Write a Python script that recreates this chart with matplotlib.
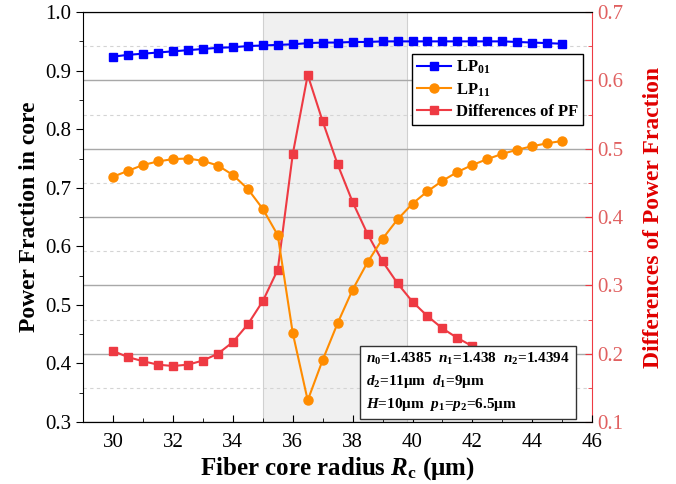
import matplotlib
matplotlib.use("Agg")
import matplotlib.pyplot as plt
from matplotlib.ticker import MultipleLocator

plt.rcParams['font.family'] = ['Liberation Serif', 'DejaVu Serif']
plt.rcParams['mathtext.fontset'] = 'custom'
plt.rcParams['mathtext.rm'] = 'Liberation Serif:bold'
plt.rcParams['mathtext.it'] = 'Liberation Serif:italic:bold'
plt.rcParams['mathtext.bf'] = 'Liberation Serif:bold'

# fiber core radius (um)
radius = [30.0, 30.5, 31.0, 31.5, 32.0, 32.5, 33.0, 33.5, 34.0, 34.5, 35.0,
          35.5, 36.0, 36.5, 37.0, 37.5, 38.0, 38.5, 39.0, 39.5, 40.0,
          40.5, 41.0, 41.5, 42.0, 42.5, 43.0, 43.5, 44.0, 44.5, 45.0]

# power fraction in core
lp01 = [0.924, 0.927, 0.929, 0.931, 0.933, 0.935, 0.937, 0.939, 0.940, 0.942, 0.943,
        0.944, 0.945, 0.947, 0.948, 0.948, 0.949, 0.949, 0.950, 0.950, 0.950,
        0.950, 0.950, 0.950, 0.950, 0.950, 0.950, 0.949, 0.948, 0.947, 0.946]
lp11 = [0.719, 0.729, 0.739, 0.745, 0.749, 0.750, 0.746, 0.738, 0.722, 0.698, 0.664,
        0.619, 0.452, 0.337, 0.406, 0.469, 0.526, 0.573, 0.613, 0.646, 0.673,
        0.694, 0.712, 0.727, 0.739, 0.749, 0.758, 0.765, 0.771, 0.776, 0.780]
# differences of power fraction (right axis)
diff_pf = [0.204, 0.195, 0.189, 0.184, 0.182, 0.184, 0.190, 0.200, 0.217, 0.243, 0.277,
           0.323, 0.492, 0.608, 0.540, 0.477, 0.422, 0.375, 0.335, 0.303, 0.276,
           0.255, 0.237, 0.223, 0.211, 0.200, 0.192, 0.185, 0.179, 0.173, 0.168]

shade_range = (35.0, 39.8)

blue = '#0000ff'
orange = '#ff8c00'
red = '#ee3a43'
red_txt = '#e06060'

fig = plt.figure(figsize=(6.76, 4.84), dpi=100)
ax1 = fig.add_axes([0.123, 0.128, 0.753, 0.847])
ax2 = ax1.twinx()

# ax1 (blue/orange) sits on top of ax2 (grid, shading, red curve)
ax1.set_zorder(ax2.get_zorder() + 1)
ax1.patch.set_visible(False)

ax2.axvspan(*shade_range, facecolor='#f0f0f0', edgecolor='#d0d0d0', linewidth=0.8, zorder=0)
ax2.plot(radius, diff_pf, '-s', color=red, markersize=5.5, linewidth=1.5,
         label='Differences of PF', zorder=3)

ax1.plot(radius, lp01, '-s', color=blue, markersize=6, linewidth=1.5, label='LP$_{01}$')
ax1.plot(radius, lp11, '-o', color=orange, markersize=6.5, linewidth=1.5, label='LP$_{11}$')

ax1.set_xlim(29, 46)
ax1.set_ylim(0.3, 1.0)
ax2.set_ylim(0.1, 0.7)

ax1.xaxis.set_major_locator(MultipleLocator(2))
ax1.xaxis.set_minor_locator(MultipleLocator(1))
ax1.yaxis.set_major_locator(MultipleLocator(0.1))
ax1.yaxis.set_minor_locator(MultipleLocator(0.05))
ax2.yaxis.set_major_locator(MultipleLocator(0.1))
ax2.yaxis.set_minor_locator(MultipleLocator(0.05))
ax1.yaxis.set_major_formatter(plt.FormatStrFormatter('%.1f'))
ax2.yaxis.set_major_formatter(plt.FormatStrFormatter('%.1f'))

# grid follows the right axis
ax2.grid(True, which='major', axis='y', color='#a8a8a8', linewidth=1.0)
ax2.grid(True, which='minor', axis='y', color='#d4d4d4', linewidth=0.8, linestyle=(0, (3, 3)))
ax2.set_axisbelow(True)

ax1.tick_params(axis='y', which='major', direction='out', length=5, labelsize=15)
ax1.tick_params(axis='y', which='minor', direction='out', length=3)
ax1.tick_params(axis='x', which='major', direction='in', length=5, labelsize=15, pad=8)
ax1.tick_params(axis='x', which='minor', direction='in', length=3)
ax2.tick_params(axis='y', which='major', direction='in', length=5, labelsize=15,
                color=red, labelcolor=red_txt)
ax2.tick_params(axis='y', which='minor', direction='in', length=3, color=red)

ax1.spines['right'].set_visible(False)
ax2.spines['right'].set_color(red)
ax2.spines['left'].set_visible(False)

ax1.set_xlabel('Fiber core radius $R_\\mathrm{c}$ (μm)', fontsize=18, fontweight='bold', labelpad=2)
ax1.set_ylabel('Power Fraction in core', fontsize=17, fontweight='bold')
ax2.set_ylabel('Differences of Power Fraction', fontsize=17, fontweight='bold',
               color='#e00000', labelpad=14)

h1, l1 = ax1.get_legend_handles_labels()
h2, l2 = ax2.get_legend_handles_labels()
leg = ax1.legend(h1 + h2, l1 + l2, loc='upper right', bbox_to_anchor=(0.982, 0.898),
                 prop={'weight': 'bold', 'size': 12}, frameon=True, fancybox=False,
                 edgecolor='black', framealpha=1, borderpad=0.3, labelspacing=0.3,
                 handlelength=2.0, handletextpad=0.3, borderaxespad=0)
leg.get_frame().set_linewidth(1.0)
leg.set_zorder(10)

params = ('$n_0$=1.4385  $n_1$=1.438  $n_2$=1.4394\n'
          '$d_2$=11μm  $d_1$=9μm\n'
          '$H$=10μm  $p_1$=$p_2$=6.5μm')
ax1.text(0.556, 0.022, params, transform=ax1.transAxes, fontsize=11, fontweight='bold',
         ha='left', va='bottom', linespacing=1.5, zorder=11,
         bbox=dict(boxstyle='square,pad=0.4', facecolor='white', edgecolor='#333333', linewidth=1.0))

fig.savefig('out.png', dpi=100)
